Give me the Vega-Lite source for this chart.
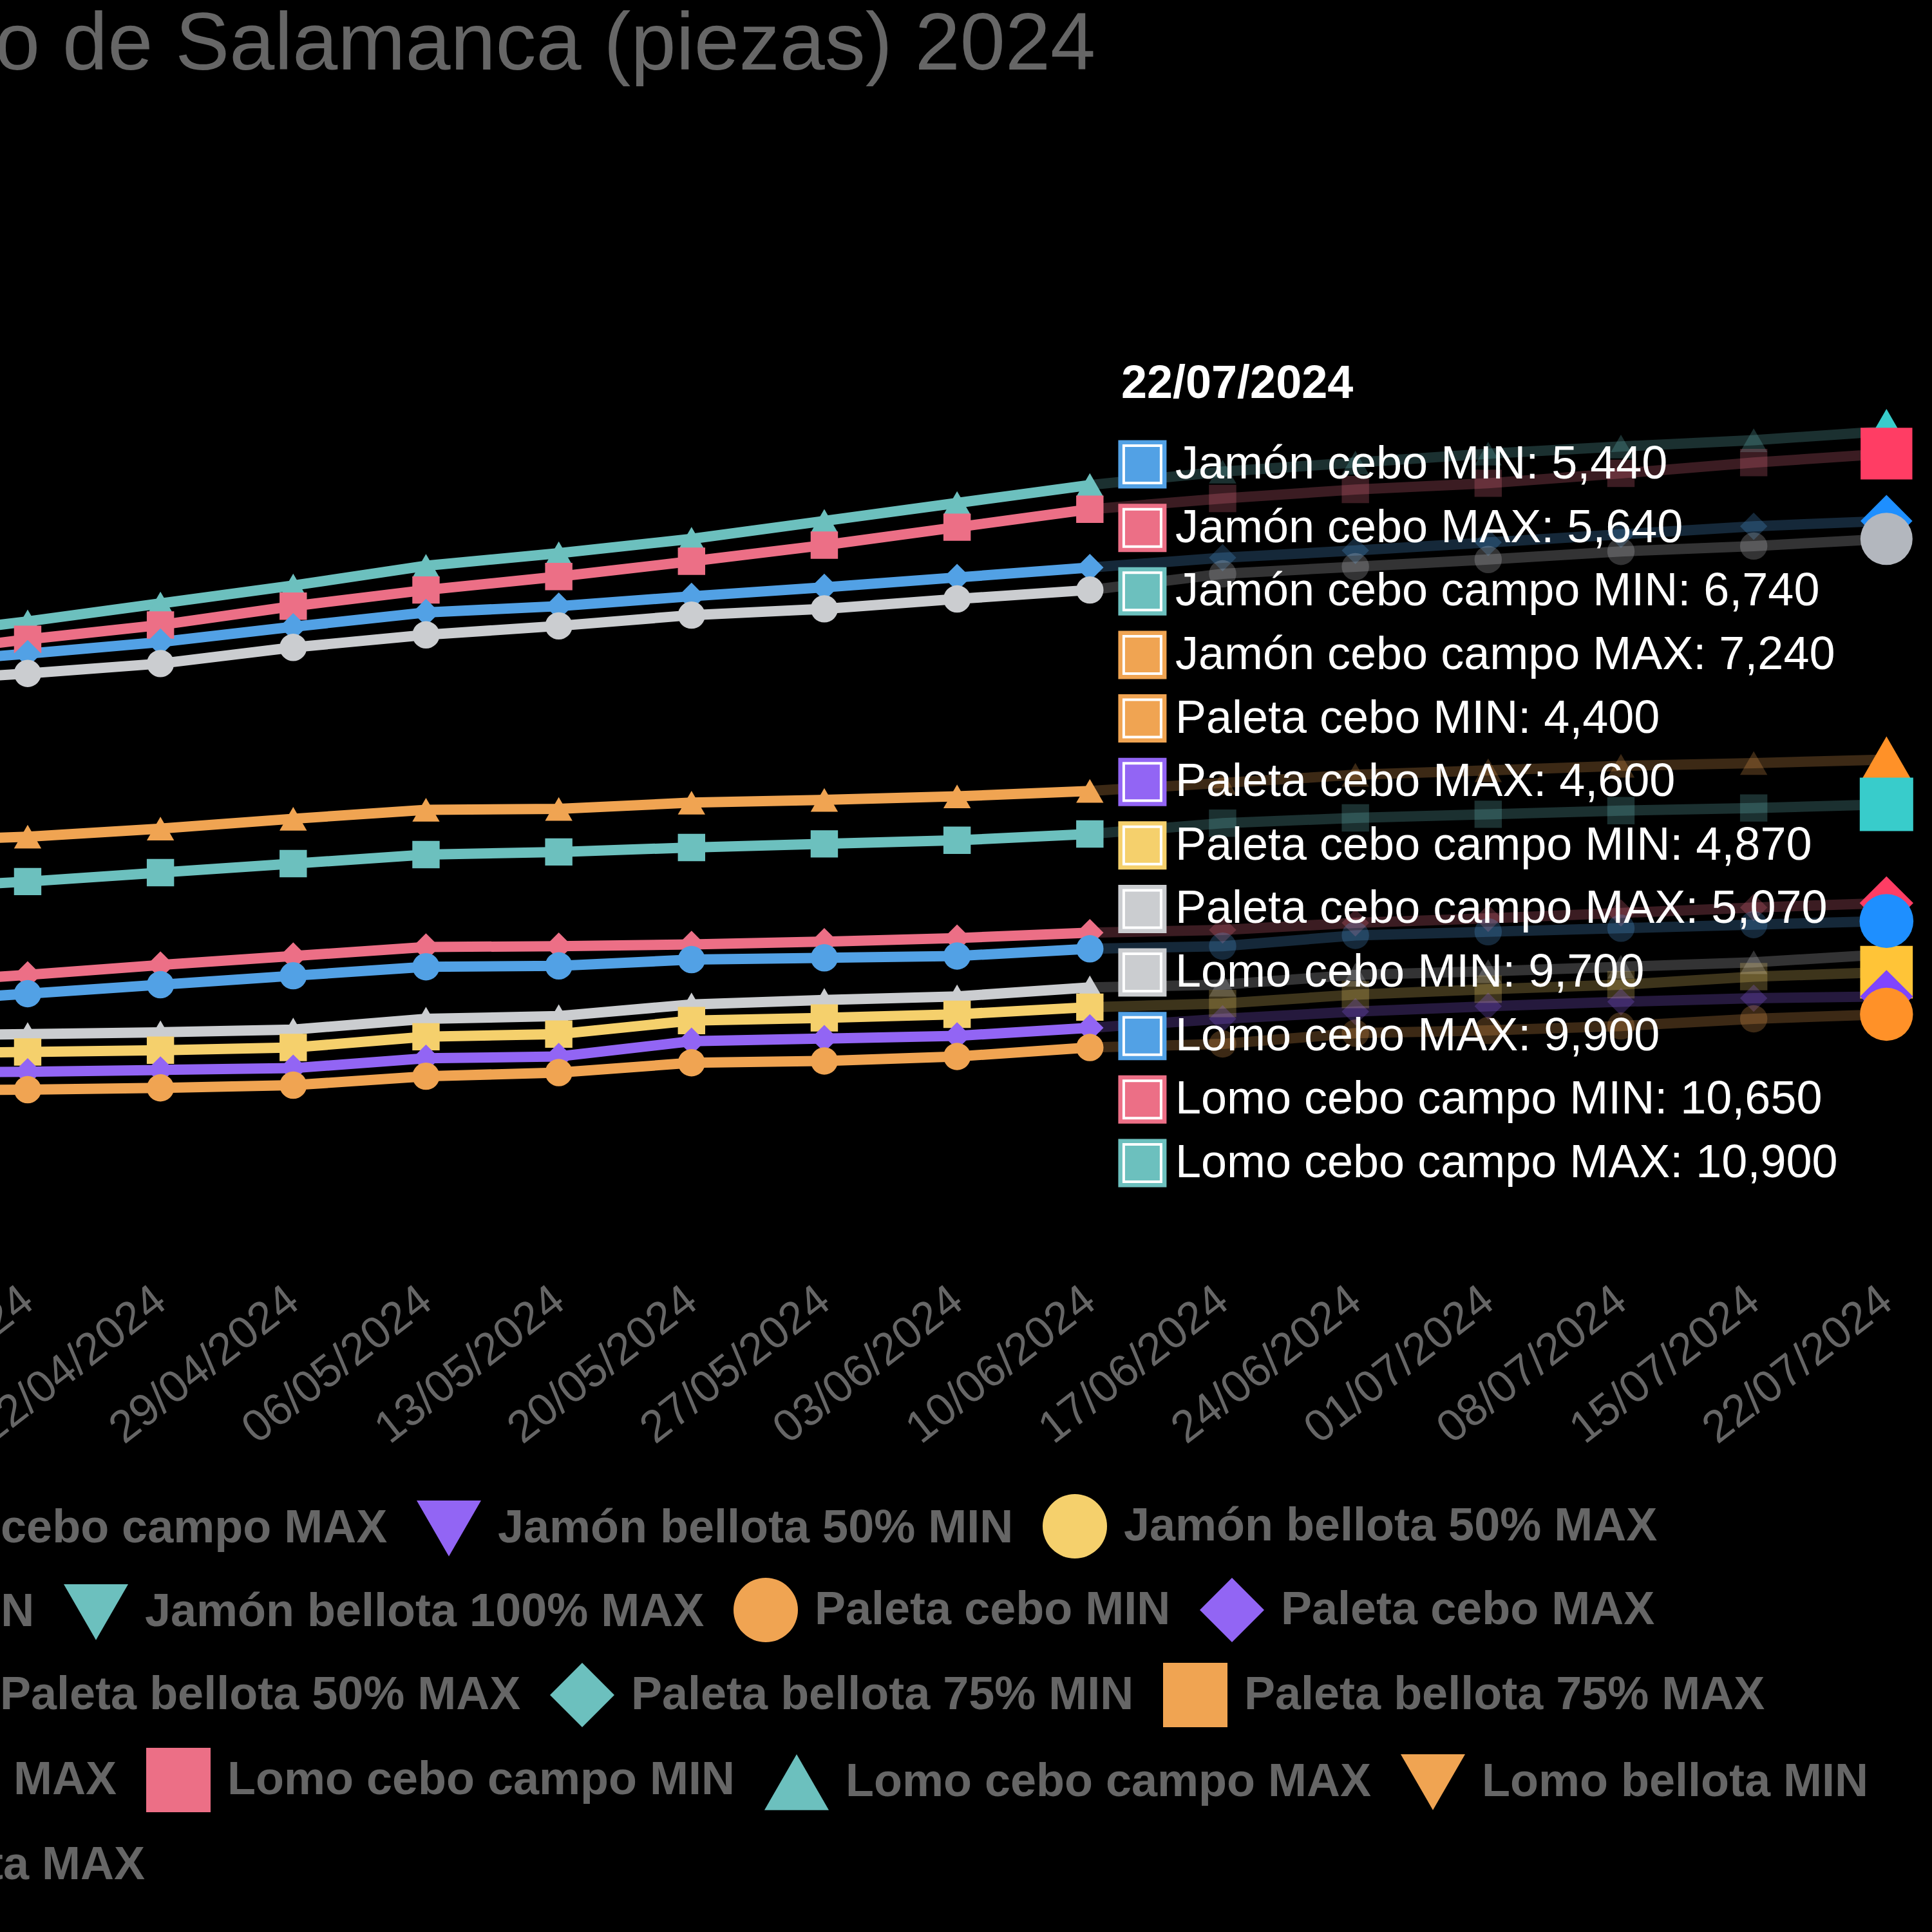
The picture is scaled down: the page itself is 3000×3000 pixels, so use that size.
{
  "$schema": "https://vega.github.io/schema/vega-lite/v6.json",
  "background": "#000000",
  "autosize": {"type": "none"},
  "padding": {"left": 0, "top": 586, "right": 40, "bottom": 1021},
  "width": 2960,
  "height": 1393,
  "title": {
    "text": "o de Salamanca (piezas) 2024",
    "anchor": "start",
    "frame": "group",
    "font": "Liberation Sans",
    "fontSize": 126,
    "fontWeight": "normal",
    "color": "#666666",
    "baseline": "alphabetic",
    "offset": 326,
    "dx": -8
  },
  "datasets": {
    "precios": [
      {"serie": "Lomo cebo campo MAX", "fecha": "2024-04-08", "precio": 8600},
      {"serie": "Lomo cebo campo MAX", "fecha": "2024-04-15", "precio": 8780},
      {"serie": "Lomo cebo campo MAX", "fecha": "2024-04-22", "precio": 8980},
      {"serie": "Lomo cebo campo MAX", "fecha": "2024-04-29", "precio": 9180},
      {"serie": "Lomo cebo campo MAX", "fecha": "2024-05-06", "precio": 9400},
      {"serie": "Lomo cebo campo MAX", "fecha": "2024-05-13", "precio": 9540},
      {"serie": "Lomo cebo campo MAX", "fecha": "2024-05-20", "precio": 9700},
      {"serie": "Lomo cebo campo MAX", "fecha": "2024-05-27", "precio": 9900},
      {"serie": "Lomo cebo campo MAX", "fecha": "2024-06-03", "precio": 10100},
      {"serie": "Lomo cebo campo MAX", "fecha": "2024-06-10", "precio": 10300},
      {"serie": "Lomo cebo campo MAX", "fecha": "2024-06-17", "precio": 10450},
      {"serie": "Lomo cebo campo MAX", "fecha": "2024-06-24", "precio": 10550},
      {"serie": "Lomo cebo campo MAX", "fecha": "2024-07-01", "precio": 10650},
      {"serie": "Lomo cebo campo MAX", "fecha": "2024-07-08", "precio": 10730},
      {"serie": "Lomo cebo campo MAX", "fecha": "2024-07-15", "precio": 10800},
      {"serie": "Lomo cebo campo MAX", "fecha": "2024-07-22", "precio": 10900},
      {"serie": "Lomo cebo campo MIN", "fecha": "2024-04-08", "precio": 8400},
      {"serie": "Lomo cebo campo MIN", "fecha": "2024-04-15", "precio": 8580},
      {"serie": "Lomo cebo campo MIN", "fecha": "2024-04-22", "precio": 8740},
      {"serie": "Lomo cebo campo MIN", "fecha": "2024-04-29", "precio": 8950},
      {"serie": "Lomo cebo campo MIN", "fecha": "2024-05-06", "precio": 9130},
      {"serie": "Lomo cebo campo MIN", "fecha": "2024-05-13", "precio": 9280},
      {"serie": "Lomo cebo campo MIN", "fecha": "2024-05-20", "precio": 9450},
      {"serie": "Lomo cebo campo MIN", "fecha": "2024-05-27", "precio": 9630},
      {"serie": "Lomo cebo campo MIN", "fecha": "2024-06-03", "precio": 9830},
      {"serie": "Lomo cebo campo MIN", "fecha": "2024-06-10", "precio": 10030},
      {"serie": "Lomo cebo campo MIN", "fecha": "2024-06-17", "precio": 10150},
      {"serie": "Lomo cebo campo MIN", "fecha": "2024-06-24", "precio": 10250},
      {"serie": "Lomo cebo campo MIN", "fecha": "2024-07-01", "precio": 10320},
      {"serie": "Lomo cebo campo MIN", "fecha": "2024-07-08", "precio": 10430},
      {"serie": "Lomo cebo campo MIN", "fecha": "2024-07-15", "precio": 10550},
      {"serie": "Lomo cebo campo MIN", "fecha": "2024-07-22", "precio": 10650},
      {"serie": "Lomo cebo MAX", "fecha": "2024-04-08", "precio": 8300},
      {"serie": "Lomo cebo MAX", "fecha": "2024-04-15", "precio": 8420},
      {"serie": "Lomo cebo MAX", "fecha": "2024-04-22", "precio": 8550},
      {"serie": "Lomo cebo MAX", "fecha": "2024-04-29", "precio": 8720},
      {"serie": "Lomo cebo MAX", "fecha": "2024-05-06", "precio": 8880},
      {"serie": "Lomo cebo MAX", "fecha": "2024-05-13", "precio": 8950},
      {"serie": "Lomo cebo MAX", "fecha": "2024-05-20", "precio": 9060},
      {"serie": "Lomo cebo MAX", "fecha": "2024-05-27", "precio": 9160},
      {"serie": "Lomo cebo MAX", "fecha": "2024-06-03", "precio": 9270},
      {"serie": "Lomo cebo MAX", "fecha": "2024-06-10", "precio": 9380},
      {"serie": "Lomo cebo MAX", "fecha": "2024-06-17", "precio": 9490},
      {"serie": "Lomo cebo MAX", "fecha": "2024-06-24", "precio": 9570},
      {"serie": "Lomo cebo MAX", "fecha": "2024-07-01", "precio": 9660},
      {"serie": "Lomo cebo MAX", "fecha": "2024-07-08", "precio": 9750},
      {"serie": "Lomo cebo MAX", "fecha": "2024-07-15", "precio": 9840},
      {"serie": "Lomo cebo MAX", "fecha": "2024-07-22", "precio": 9900},
      {"serie": "Lomo cebo MIN", "fecha": "2024-04-08", "precio": 8100},
      {"serie": "Lomo cebo MIN", "fecha": "2024-04-15", "precio": 8200},
      {"serie": "Lomo cebo MIN", "fecha": "2024-04-22", "precio": 8310},
      {"serie": "Lomo cebo MIN", "fecha": "2024-04-29", "precio": 8490},
      {"serie": "Lomo cebo MIN", "fecha": "2024-05-06", "precio": 8630},
      {"serie": "Lomo cebo MIN", "fecha": "2024-05-13", "precio": 8730},
      {"serie": "Lomo cebo MIN", "fecha": "2024-05-20", "precio": 8850},
      {"serie": "Lomo cebo MIN", "fecha": "2024-05-27", "precio": 8920},
      {"serie": "Lomo cebo MIN", "fecha": "2024-06-03", "precio": 9030},
      {"serie": "Lomo cebo MIN", "fecha": "2024-06-10", "precio": 9130},
      {"serie": "Lomo cebo MIN", "fecha": "2024-06-17", "precio": 9310},
      {"serie": "Lomo cebo MIN", "fecha": "2024-06-24", "precio": 9390},
      {"serie": "Lomo cebo MIN", "fecha": "2024-07-01", "precio": 9470},
      {"serie": "Lomo cebo MIN", "fecha": "2024-07-08", "precio": 9560},
      {"serie": "Lomo cebo MIN", "fecha": "2024-07-15", "precio": 9620},
      {"serie": "Lomo cebo MIN", "fecha": "2024-07-22", "precio": 9700},
      {"serie": "Paleta cebo campo MAX", "fecha": "2024-04-08", "precio": 4160},
      {"serie": "Paleta cebo campo MAX", "fecha": "2024-04-15", "precio": 4180},
      {"serie": "Paleta cebo campo MAX", "fecha": "2024-04-22", "precio": 4200},
      {"serie": "Paleta cebo campo MAX", "fecha": "2024-04-29", "precio": 4230},
      {"serie": "Paleta cebo campo MAX", "fecha": "2024-05-06", "precio": 4350},
      {"serie": "Paleta cebo campo MAX", "fecha": "2024-05-13", "precio": 4380},
      {"serie": "Paleta cebo campo MAX", "fecha": "2024-05-20", "precio": 4510},
      {"serie": "Paleta cebo campo MAX", "fecha": "2024-05-27", "precio": 4560},
      {"serie": "Paleta cebo campo MAX", "fecha": "2024-06-03", "precio": 4600},
      {"serie": "Paleta cebo campo MAX", "fecha": "2024-06-10", "precio": 4700},
      {"serie": "Paleta cebo campo MAX", "fecha": "2024-06-17", "precio": 4730},
      {"serie": "Paleta cebo campo MAX", "fecha": "2024-06-24", "precio": 4840},
      {"serie": "Paleta cebo campo MAX", "fecha": "2024-07-01", "precio": 4880},
      {"serie": "Paleta cebo campo MAX", "fecha": "2024-07-08", "precio": 4930},
      {"serie": "Paleta cebo campo MAX", "fecha": "2024-07-15", "precio": 4980},
      {"serie": "Paleta cebo campo MAX", "fecha": "2024-07-22", "precio": 5070},
      {"serie": "Paleta cebo campo MIN", "fecha": "2024-04-08", "precio": 3960},
      {"serie": "Paleta cebo campo MIN", "fecha": "2024-04-15", "precio": 3980},
      {"serie": "Paleta cebo campo MIN", "fecha": "2024-04-22", "precio": 4000},
      {"serie": "Paleta cebo campo MIN", "fecha": "2024-04-29", "precio": 4030},
      {"serie": "Paleta cebo campo MIN", "fecha": "2024-05-06", "precio": 4150},
      {"serie": "Paleta cebo campo MIN", "fecha": "2024-05-13", "precio": 4180},
      {"serie": "Paleta cebo campo MIN", "fecha": "2024-05-20", "precio": 4330},
      {"serie": "Paleta cebo campo MIN", "fecha": "2024-05-27", "precio": 4360},
      {"serie": "Paleta cebo campo MIN", "fecha": "2024-06-03", "precio": 4400},
      {"serie": "Paleta cebo campo MIN", "fecha": "2024-06-10", "precio": 4480},
      {"serie": "Paleta cebo campo MIN", "fecha": "2024-06-17", "precio": 4520},
      {"serie": "Paleta cebo campo MIN", "fecha": "2024-06-24", "precio": 4620},
      {"serie": "Paleta cebo campo MIN", "fecha": "2024-07-01", "precio": 4680},
      {"serie": "Paleta cebo campo MIN", "fecha": "2024-07-08", "precio": 4730},
      {"serie": "Paleta cebo campo MIN", "fecha": "2024-07-15", "precio": 4820},
      {"serie": "Paleta cebo campo MIN", "fecha": "2024-07-22", "precio": 4870},
      {"serie": "Paleta cebo MAX", "fecha": "2024-04-08", "precio": 3750},
      {"serie": "Paleta cebo MAX", "fecha": "2024-04-15", "precio": 3760},
      {"serie": "Paleta cebo MAX", "fecha": "2024-04-22", "precio": 3780},
      {"serie": "Paleta cebo MAX", "fecha": "2024-04-29", "precio": 3800},
      {"serie": "Paleta cebo MAX", "fecha": "2024-05-06", "precio": 3910},
      {"serie": "Paleta cebo MAX", "fecha": "2024-05-13", "precio": 3930},
      {"serie": "Paleta cebo MAX", "fecha": "2024-05-20", "precio": 4100},
      {"serie": "Paleta cebo MAX", "fecha": "2024-05-27", "precio": 4130},
      {"serie": "Paleta cebo MAX", "fecha": "2024-06-03", "precio": 4160},
      {"serie": "Paleta cebo MAX", "fecha": "2024-06-10", "precio": 4250},
      {"serie": "Paleta cebo MAX", "fecha": "2024-06-17", "precio": 4350},
      {"serie": "Paleta cebo MAX", "fecha": "2024-06-24", "precio": 4430},
      {"serie": "Paleta cebo MAX", "fecha": "2024-07-01", "precio": 4490},
      {"serie": "Paleta cebo MAX", "fecha": "2024-07-08", "precio": 4540},
      {"serie": "Paleta cebo MAX", "fecha": "2024-07-15", "precio": 4580},
      {"serie": "Paleta cebo MAX", "fecha": "2024-07-22", "precio": 4600},
      {"serie": "Paleta cebo MIN", "fecha": "2024-04-08", "precio": 3550},
      {"serie": "Paleta cebo MIN", "fecha": "2024-04-15", "precio": 3560},
      {"serie": "Paleta cebo MIN", "fecha": "2024-04-22", "precio": 3580},
      {"serie": "Paleta cebo MIN", "fecha": "2024-04-29", "precio": 3610},
      {"serie": "Paleta cebo MIN", "fecha": "2024-05-06", "precio": 3710},
      {"serie": "Paleta cebo MIN", "fecha": "2024-05-13", "precio": 3750},
      {"serie": "Paleta cebo MIN", "fecha": "2024-05-20", "precio": 3860},
      {"serie": "Paleta cebo MIN", "fecha": "2024-05-27", "precio": 3880},
      {"serie": "Paleta cebo MIN", "fecha": "2024-06-03", "precio": 3930},
      {"serie": "Paleta cebo MIN", "fecha": "2024-06-10", "precio": 4030},
      {"serie": "Paleta cebo MIN", "fecha": "2024-06-17", "precio": 4070},
      {"serie": "Paleta cebo MIN", "fecha": "2024-06-24", "precio": 4190},
      {"serie": "Paleta cebo MIN", "fecha": "2024-07-01", "precio": 4220},
      {"serie": "Paleta cebo MIN", "fecha": "2024-07-08", "precio": 4270},
      {"serie": "Paleta cebo MIN", "fecha": "2024-07-15", "precio": 4350},
      {"serie": "Paleta cebo MIN", "fecha": "2024-07-22", "precio": 4400},
      {"serie": "Jamón cebo campo MAX", "fecha": "2024-04-08", "precio": 6330},
      {"serie": "Jamón cebo campo MAX", "fecha": "2024-04-15", "precio": 6380},
      {"serie": "Jamón cebo campo MAX", "fecha": "2024-04-22", "precio": 6470},
      {"serie": "Jamón cebo campo MAX", "fecha": "2024-04-29", "precio": 6580},
      {"serie": "Jamón cebo campo MAX", "fecha": "2024-05-06", "precio": 6680},
      {"serie": "Jamón cebo campo MAX", "fecha": "2024-05-13", "precio": 6690},
      {"serie": "Jamón cebo campo MAX", "fecha": "2024-05-20", "precio": 6760},
      {"serie": "Jamón cebo campo MAX", "fecha": "2024-05-27", "precio": 6790},
      {"serie": "Jamón cebo campo MAX", "fecha": "2024-06-03", "precio": 6830},
      {"serie": "Jamón cebo campo MAX", "fecha": "2024-06-10", "precio": 6890},
      {"serie": "Jamón cebo campo MAX", "fecha": "2024-06-17", "precio": 6980},
      {"serie": "Jamón cebo campo MAX", "fecha": "2024-06-24", "precio": 7070},
      {"serie": "Jamón cebo campo MAX", "fecha": "2024-07-01", "precio": 7120},
      {"serie": "Jamón cebo campo MAX", "fecha": "2024-07-08", "precio": 7170},
      {"serie": "Jamón cebo campo MAX", "fecha": "2024-07-15", "precio": 7200},
      {"serie": "Jamón cebo campo MAX", "fecha": "2024-07-22", "precio": 7240},
      {"serie": "Jamón cebo campo MIN", "fecha": "2024-04-08", "precio": 5800},
      {"serie": "Jamón cebo campo MIN", "fecha": "2024-04-15", "precio": 5880},
      {"serie": "Jamón cebo campo MIN", "fecha": "2024-04-22", "precio": 5980},
      {"serie": "Jamón cebo campo MIN", "fecha": "2024-04-29", "precio": 6080},
      {"serie": "Jamón cebo campo MIN", "fecha": "2024-05-06", "precio": 6180},
      {"serie": "Jamón cebo campo MIN", "fecha": "2024-05-13", "precio": 6210},
      {"serie": "Jamón cebo campo MIN", "fecha": "2024-05-20", "precio": 6260},
      {"serie": "Jamón cebo campo MIN", "fecha": "2024-05-27", "precio": 6300},
      {"serie": "Jamón cebo campo MIN", "fecha": "2024-06-03", "precio": 6340},
      {"serie": "Jamón cebo campo MIN", "fecha": "2024-06-10", "precio": 6410},
      {"serie": "Jamón cebo campo MIN", "fecha": "2024-06-17", "precio": 6530},
      {"serie": "Jamón cebo campo MIN", "fecha": "2024-06-24", "precio": 6590},
      {"serie": "Jamón cebo campo MIN", "fecha": "2024-07-01", "precio": 6630},
      {"serie": "Jamón cebo campo MIN", "fecha": "2024-07-08", "precio": 6670},
      {"serie": "Jamón cebo campo MIN", "fecha": "2024-07-15", "precio": 6700},
      {"serie": "Jamón cebo campo MIN", "fecha": "2024-07-22", "precio": 6740},
      {"serie": "Jamón cebo MAX", "fecha": "2024-04-08", "precio": 4740},
      {"serie": "Jamón cebo MAX", "fecha": "2024-04-15", "precio": 4840},
      {"serie": "Jamón cebo MAX", "fecha": "2024-04-22", "precio": 4950},
      {"serie": "Jamón cebo MAX", "fecha": "2024-04-29", "precio": 5050},
      {"serie": "Jamón cebo MAX", "fecha": "2024-05-06", "precio": 5150},
      {"serie": "Jamón cebo MAX", "fecha": "2024-05-13", "precio": 5160},
      {"serie": "Jamón cebo MAX", "fecha": "2024-05-20", "precio": 5180},
      {"serie": "Jamón cebo MAX", "fecha": "2024-05-27", "precio": 5210},
      {"serie": "Jamón cebo MAX", "fecha": "2024-06-03", "precio": 5250},
      {"serie": "Jamón cebo MAX", "fecha": "2024-06-10", "precio": 5310},
      {"serie": "Jamón cebo MAX", "fecha": "2024-06-17", "precio": 5340},
      {"serie": "Jamón cebo MAX", "fecha": "2024-06-24", "precio": 5420},
      {"serie": "Jamón cebo MAX", "fecha": "2024-07-01", "precio": 5470},
      {"serie": "Jamón cebo MAX", "fecha": "2024-07-08", "precio": 5530},
      {"serie": "Jamón cebo MAX", "fecha": "2024-07-15", "precio": 5590},
      {"serie": "Jamón cebo MAX", "fecha": "2024-07-22", "precio": 5640},
      {"serie": "Jamón cebo MIN", "fecha": "2024-04-08", "precio": 4530},
      {"serie": "Jamón cebo MIN", "fecha": "2024-04-15", "precio": 4630},
      {"serie": "Jamón cebo MIN", "fecha": "2024-04-22", "precio": 4730},
      {"serie": "Jamón cebo MIN", "fecha": "2024-04-29", "precio": 4830},
      {"serie": "Jamón cebo MIN", "fecha": "2024-05-06", "precio": 4930},
      {"serie": "Jamón cebo MIN", "fecha": "2024-05-13", "precio": 4940},
      {"serie": "Jamón cebo MIN", "fecha": "2024-05-20", "precio": 5010},
      {"serie": "Jamón cebo MIN", "fecha": "2024-05-27", "precio": 5030},
      {"serie": "Jamón cebo MIN", "fecha": "2024-06-03", "precio": 5050},
      {"serie": "Jamón cebo MIN", "fecha": "2024-06-10", "precio": 5130},
      {"serie": "Jamón cebo MIN", "fecha": "2024-06-17", "precio": 5160},
      {"serie": "Jamón cebo MIN", "fecha": "2024-06-24", "precio": 5280},
      {"serie": "Jamón cebo MIN", "fecha": "2024-07-01", "precio": 5320},
      {"serie": "Jamón cebo MIN", "fecha": "2024-07-08", "precio": 5360},
      {"serie": "Jamón cebo MIN", "fecha": "2024-07-15", "precio": 5400},
      {"serie": "Jamón cebo MIN", "fecha": "2024-07-22", "precio": 5440}
    ]
  },
  "data": {"name": "precios"},
  "layer": [
    {
      "encoding": {
        "x": {
          "field": "fecha",
          "type": "temporal",
          "scale": {
            "type": "utc",
            "domain": [
              {"year": 2024, "month": 4, "date": 13, "hours": 13, "utc": true},
              {"year": 2024, "month": 7, "date": 23, "hours": 1, "utc": true}
            ]
          },
          "axis": {
            "values": [
              {"year": 2024, "month": 4, "date": 15, "utc": true},
              {"year": 2024, "month": 4, "date": 22, "utc": true},
              {"year": 2024, "month": 4, "date": 29, "utc": true},
              {"year": 2024, "month": 5, "date": 6, "utc": true},
              {"year": 2024, "month": 5, "date": 13, "utc": true},
              {"year": 2024, "month": 5, "date": 20, "utc": true},
              {"year": 2024, "month": 5, "date": 27, "utc": true},
              {"year": 2024, "month": 6, "date": 3, "utc": true},
              {"year": 2024, "month": 6, "date": 10, "utc": true},
              {"year": 2024, "month": 6, "date": 17, "utc": true},
              {"year": 2024, "month": 6, "date": 24, "utc": true},
              {"year": 2024, "month": 7, "date": 1, "utc": true},
              {"year": 2024, "month": 7, "date": 8, "utc": true},
              {"year": 2024, "month": 7, "date": 15, "utc": true},
              {"year": 2024, "month": 7, "date": 22, "utc": true}
            ],
            "format": "%d/%m/%Y",
            "title": null,
            "grid": false,
            "domain": false,
            "ticks": false,
            "labelAngle": -38,
            "labelAlign": "right",
            "labelBaseline": "middle",
            "labelFont": "Liberation Sans",
            "labelFontSize": 70,
            "labelColor": "#666666",
            "labelPadding": 32,
            "labelLimit": 1000,
            "labelOverlap": false,
            "labelBound": false,
            "labelFlush": false
          }
        },
        "y": {
          "field": "precio",
          "type": "quantitative",
          "scale": {"domain": [1500, 11500], "nice": false, "zero": false},
          "axis": null
        }
      },
      "layer": [
        {
          "transform": [{"filter": {"field": "fecha", "lte": {"year": 2024, "month": 6, "date": 10, "utc": true}}}],
          "mark": {"type": "line", "strokeWidth": 16},
          "encoding": {
            "stroke": {
              "field": "serie",
              "type": "nominal",
              "scale": {
                "domain": ["Jamón cebo MIN", "Jamón cebo MAX", "Jamón cebo campo MIN", "Jamón cebo campo MAX", "Paleta cebo MIN", "Paleta cebo MAX", "Paleta cebo campo MIN", "Paleta cebo campo MAX", "Lomo cebo MIN", "Lomo cebo MAX", "Lomo cebo campo MIN", "Lomo cebo campo MAX"],
                "range": ["#52a1e5", "#ec6f86", "#6cc0be", "#f0a452", "#f0a452", "#9265f4", "#f5d06c", "#cbcdd0", "#cbcdd0", "#52a1e5", "#ec6f86", "#6cc0be"]
              },
              "legend": null
            }
          }
        },
        {
          "transform": [{"filter": {"field": "fecha", "gte": {"year": 2024, "month": 6, "date": 10, "utc": true}}}],
          "mark": {"type": "line", "strokeWidth": 16, "opacity": 0.25},
          "encoding": {
            "stroke": {"field": "serie", "type": "nominal", "legend": null}
          }
        },
        {
          "transform": [{"filter": {"field": "serie", "oneOf": ["Paleta bellota 100% MIN", "Paleta bellota 100% MAX", "Lomo cebo MIN", "Lomo cebo MAX", "Lomo cebo campo MIN", "Lomo cebo campo MAX", "Lomo bellota MIN"]}}],
          "mark": {"type": "point", "filled": true, "size": 1800, "strokeWidth": 0},
          "encoding": {
            "opacity": {"condition": {"test": {"field": "fecha", "gt": {"year": 2024, "month": 6, "date": 10, "utc": true}}, "value": 0.25}, "value": 1},
            "color": {
              "field": "serie",
              "type": "nominal",
              "scale": {
                "domain": ["Paleta bellota 100% MIN", "Paleta bellota 100% MAX", "Lomo cebo MIN", "Lomo cebo MAX", "Lomo cebo campo MIN", "Lomo cebo campo MAX", "Lomo bellota MIN"],
                "range": ["#9265f4", "#f5d06c", "#cbcdd0", "#52a1e5", "#ec6f86", "#6cc0be", "#f0a452"]
              },
              "legend": {"orient": "none", "legendX": -3228, "legendY": 2128, "direction": "horizontal", "columns": 7, "title": null, "symbolOpacity": 1}
            },
            "shape": {
              "field": "serie",
              "type": "nominal",
              "scale": {
                "domain": ["Paleta bellota 100% MIN", "Paleta bellota 100% MAX", "Lomo cebo MIN", "Lomo cebo MAX", "Lomo cebo campo MIN", "Lomo cebo campo MAX", "Lomo bellota MIN"],
                "range": ["triangle-up", "triangle-down", "circle", "diamond", "square", "triangle-up", "triangle-down"]
              },
              "legend": {"orient": "none", "legendX": -3228, "legendY": 2128, "direction": "horizontal", "columns": 7, "title": null, "symbolOpacity": 1}
            }
          }
        },
        {
          "transform": [{"filter": {"field": "serie", "oneOf": ["Paleta cebo campo MIN", "Paleta cebo campo MAX", "Paleta bellota 50% MIN", "Paleta bellota 50% MAX", "Paleta bellota 75% MIN", "Paleta bellota 75% MAX"]}}],
          "mark": {"type": "point", "filled": true, "size": 1800, "strokeWidth": 0},
          "encoding": {
            "opacity": {"condition": {"test": {"field": "fecha", "gt": {"year": 2024, "month": 6, "date": 10, "utc": true}}, "value": 0.25}, "value": 1},
            "color": {
              "field": "serie",
              "type": "nominal",
              "scale": {
                "domain": ["Paleta cebo campo MIN", "Paleta cebo campo MAX", "Paleta bellota 50% MIN", "Paleta bellota 50% MAX", "Paleta bellota 75% MIN", "Paleta bellota 75% MAX"],
                "range": ["#f5d06c", "#cbcdd0", "#52a1e5", "#ec6f86", "#6cc0be", "#f0a452"]
              },
              "legend": {"orient": "none", "legendX": -3058, "legendY": 1996, "direction": "horizontal", "columns": 6, "title": null, "symbolOpacity": 1}
            },
            "shape": {
              "field": "serie",
              "type": "nominal",
              "scale": {
                "domain": ["Paleta cebo campo MIN", "Paleta cebo campo MAX", "Paleta bellota 50% MIN", "Paleta bellota 50% MAX", "Paleta bellota 75% MIN", "Paleta bellota 75% MAX"],
                "range": ["square", "triangle-up", "triangle-down", "circle", "diamond", "square"]
              },
              "legend": {"orient": "none", "legendX": -3058, "legendY": 1996, "direction": "horizontal", "columns": 6, "title": null, "symbolOpacity": 1}
            }
          }
        },
        {
          "transform": [{"filter": {"field": "serie", "oneOf": ["Jamón bellota 75% MIN", "Jamón bellota 75% MAX", "Jamón bellota 100% MIN", "Jamón bellota 100% MAX", "Paleta cebo MIN", "Paleta cebo MAX"]}}],
          "mark": {"type": "point", "filled": true, "size": 1800, "strokeWidth": 0},
          "encoding": {
            "opacity": {"condition": {"test": {"field": "fecha", "gt": {"year": 2024, "month": 6, "date": 10, "utc": true}}, "value": 0.25}, "value": 1},
            "color": {
              "field": "serie",
              "type": "nominal",
              "scale": {
                "domain": ["Jamón bellota 75% MIN", "Jamón bellota 75% MAX", "Jamón bellota 100% MIN", "Jamón bellota 100% MAX", "Paleta cebo MIN", "Paleta cebo MAX"],
                "range": ["#cbcdd0", "#52a1e5", "#ec6f86", "#6cc0be", "#f0a452", "#9265f4"]
              },
              "legend": {"orient": "none", "legendX": -2885, "legendY": 1864, "direction": "horizontal", "columns": 6, "title": null, "symbolOpacity": 1}
            },
            "shape": {
              "field": "serie",
              "type": "nominal",
              "scale": {
                "domain": ["Jamón bellota 75% MIN", "Jamón bellota 75% MAX", "Jamón bellota 100% MIN", "Jamón bellota 100% MAX", "Paleta cebo MIN", "Paleta cebo MAX"],
                "range": ["diamond", "square", "triangle-up", "triangle-down", "circle", "diamond"]
              },
              "legend": {"orient": "none", "legendX": -2885, "legendY": 1864, "direction": "horizontal", "columns": 6, "title": null, "symbolOpacity": 1}
            }
          }
        },
        {
          "transform": [{"filter": {"field": "serie", "oneOf": ["Jamón cebo MIN", "Jamón cebo MAX", "Jamón cebo campo MIN", "Jamón cebo campo MAX", "Jamón bellota 50% MIN", "Jamón bellota 50% MAX"]}}],
          "mark": {"type": "point", "filled": true, "size": 1800, "strokeWidth": 0},
          "encoding": {
            "opacity": {"condition": {"test": {"field": "fecha", "gt": {"year": 2024, "month": 6, "date": 10, "utc": true}}, "value": 0.25}, "value": 1},
            "color": {
              "field": "serie",
              "type": "nominal",
              "scale": {
                "domain": ["Jamón cebo MIN", "Jamón cebo MAX", "Jamón cebo campo MIN", "Jamón cebo campo MAX", "Jamón bellota 50% MIN", "Jamón bellota 50% MAX"],
                "range": ["#52a1e5", "#ec6f86", "#6cc0be", "#f0a452", "#9265f4", "#f5d06c"]
              },
              "legend": {"orient": "none", "legendX": -2889, "legendY": 1734, "direction": "horizontal", "columns": 6, "title": null, "symbolOpacity": 1}
            },
            "shape": {
              "field": "serie",
              "type": "nominal",
              "scale": {
                "domain": ["Jamón cebo MIN", "Jamón cebo MAX", "Jamón cebo campo MIN", "Jamón cebo campo MAX", "Jamón bellota 50% MIN", "Jamón bellota 50% MAX"],
                "range": ["circle", "diamond", "square", "triangle-up", "triangle-down", "circle"]
              },
              "legend": {"orient": "none", "legendX": -2889, "legendY": 1734, "direction": "horizontal", "columns": 6, "title": null, "symbolOpacity": 1}
            }
          }
        },
        {
          "transform": [{"filter": {"field": "serie", "oneOf": ["Lomo bellota MAX"]}}],
          "mark": {"type": "point", "filled": true, "size": 1800, "strokeWidth": 0},
          "encoding": {
            "color": {
              "field": "serie",
              "type": "nominal",
              "scale": {"domain": ["Lomo bellota MAX"], "range": ["#f5d06c"]},
              "legend": {"orient": "none", "legendX": -529, "legendY": 2260, "direction": "horizontal", "columns": 1, "title": null, "symbolOpacity": 1}
            },
            "shape": {
              "field": "serie",
              "type": "nominal",
              "scale": {"domain": ["Lomo bellota MAX"], "range": ["circle"]},
              "legend": {"orient": "none", "legendX": -529, "legendY": 2260, "direction": "horizontal", "columns": 1, "title": null, "symbolOpacity": 1}
            }
          }
        },
        {
          "transform": [{"filter": {"field": "fecha", "equal": {"year": 2024, "month": 7, "date": 22, "utc": true}}}],
          "mark": {"type": "point", "filled": true, "opacity": 1, "strokeWidth": 0},
          "encoding": {
            "color": {
              "field": "serie",
              "type": "nominal",
              "scale": {
                "domain": ["Jamón cebo MIN", "Jamón cebo MAX", "Jamón cebo campo MIN", "Jamón cebo campo MAX", "Paleta cebo MIN", "Paleta cebo MAX", "Paleta cebo campo MIN", "Paleta cebo campo MAX", "Lomo cebo MIN", "Lomo cebo MAX", "Lomo cebo campo MIN", "Lomo cebo campo MAX"],
                "range": ["#1e8fff", "#ff3d64", "#38cccb", "#ff9128", "#ff9128", "#7f45ff", "#ffc437", "#b3b7be", "#b3b7be", "#1e8fff", "#ff3d64", "#38cccb"]
              },
              "legend": null
            },
            "shape": {
              "field": "serie",
              "type": "nominal",
              "scale": {
                "domain": ["Jamón cebo MIN", "Jamón cebo MAX", "Jamón cebo campo MIN", "Jamón cebo campo MAX", "Paleta cebo MIN", "Paleta cebo MAX", "Paleta cebo campo MIN", "Paleta cebo campo MAX", "Lomo cebo MIN", "Lomo cebo MAX", "Lomo cebo campo MIN", "Lomo cebo campo MAX"],
                "range": ["circle", "diamond", "square", "triangle-up", "circle", "diamond", "square", "triangle-up", "circle", "diamond", "square", "triangle-up"]
              },
              "legend": null
            },
            "size": {
              "field": "serie",
              "type": "nominal",
              "scale": {
                "domain": ["Jamón cebo MIN", "Jamón cebo MAX", "Jamón cebo campo MIN", "Jamón cebo campo MAX", "Paleta cebo MIN", "Paleta cebo MAX", "Paleta cebo campo MIN", "Paleta cebo campo MAX", "Lomo cebo MIN", "Lomo cebo MAX", "Lomo cebo campo MIN", "Lomo cebo campo MAX"],
                "range": [7000, 6400, 4400, 6400, 7000, 6400, 4400, 6400, 7000, 6400, 4400, 6400]
              },
              "legend": null
            }
          }
        }
      ],
      "resolve": {"scale": {"color": "independent", "shape": "independent"}}
    },
    {
      "encoding": {
        "x": {
          "datum": {"year": 2024, "month": 6, "date": 12, "hours": 18, "minutes": 30, "utc": true},
          "type": "temporal",
          "scale": {"type": "utc"}
        },
        "y": {
          "field": "serie",
          "type": "nominal",
          "scale": {
            "type": "point",
            "domain": ["Jamón cebo MIN", "Jamón cebo MAX", "Jamón cebo campo MIN", "Jamón cebo campo MAX", "Paleta cebo MIN", "Paleta cebo MAX", "Paleta cebo campo MIN", "Paleta cebo campo MAX", "Lomo cebo MIN", "Lomo cebo MAX", "Lomo cebo campo MIN", "Lomo cebo campo MAX"],
            "range": [135, 1220],
            "padding": 0
          },
          "axis": null
        }
      },
      "layer": [
        {
          "transform": [{"filter": {"field": "fecha", "equal": {"year": 2024, "month": 7, "date": 22, "utc": true}}}],
          "mark": {"type": "square", "size": 5625, "opacity": 1, "strokeWidth": 0},
          "encoding": {
            "color": {
              "field": "serie",
              "type": "nominal",
              "scale": {
                "domain": ["Jamón cebo MIN", "Jamón cebo MAX", "Jamón cebo campo MIN", "Jamón cebo campo MAX", "Paleta cebo MIN", "Paleta cebo MAX", "Paleta cebo campo MIN", "Paleta cebo campo MAX", "Lomo cebo MIN", "Lomo cebo MAX", "Lomo cebo campo MIN", "Lomo cebo campo MAX"],
                "range": ["#52a1e5", "#ec6f86", "#6cc0be", "#f0a452", "#f0a452", "#9265f4", "#f5d06c", "#cbcdd0", "#cbcdd0", "#52a1e5", "#ec6f86", "#6cc0be"]
              },
              "legend": null
            }
          }
        },
        {
          "transform": [{"filter": {"field": "fecha", "equal": {"year": 2024, "month": 7, "date": 22, "utc": true}}}],
          "mark": {"type": "square", "size": 3364, "filled": false, "opacity": 1, "strokeWidth": 4},
          "encoding": {"stroke": {"value": "#ffffff"}}
        },
        {
          "transform": [
            {"filter": {"field": "fecha", "equal": {"year": 2024, "month": 7, "date": 22, "utc": true}}},
            {"calculate": "datum.serie + ': ' + format(datum.precio, ',')", "as": "etiqueta"}
          ],
          "mark": {"type": "text", "align": "left", "baseline": "middle", "dx": 51, "font": "Liberation Sans", "fontSize": 72},
          "encoding": {"text": {"field": "etiqueta"}, "fill": {"value": "#ffffff"}}
        },
        {
          "data": {"values": [{"cabecera": "22/07/2024"}]},
          "mark": {"type": "text", "align": "left", "baseline": "middle", "dx": -33, "dy": -125, "font": "Liberation Sans", "fontSize": 72, "fontWeight": "bold"},
          "encoding": {
            "y": {"datum": "Jamón cebo MIN", "type": "nominal"},
            "text": {"field": "cabecera"},
            "fill": {"value": "#ffffff"}
          }
        }
      ]
    }
  ],
  "resolve": {"scale": {"y": "independent", "color": "independent", "shape": "independent"}},
  "config": {
    "view": {"stroke": null},
    "font": "Liberation Sans",
    "legend": {
      "labelFont": "Liberation Sans",
      "labelFontSize": 72,
      "labelFontWeight": "bold",
      "labelColor": "#666666",
      "labelLimit": 0,
      "labelOffset": 26,
      "columnPadding": 45,
      "rowPadding": 0,
      "padding": 0,
      "symbolSize": 10000,
      "symbolStrokeWidth": 0,
      "symbolOpacity": 1
    }
  }
}
